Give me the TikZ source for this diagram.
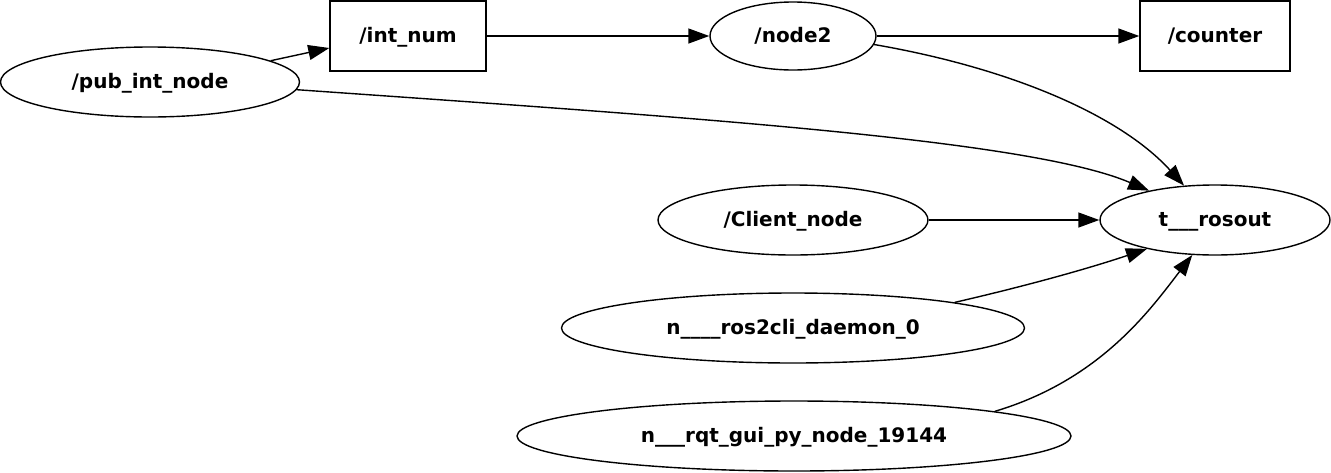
\documentclass[tikz,border=0pt]{standalone}
\usepackage{fontspec}
\setmainfont{DejaVu Sans}
\usetikzlibrary{shapes.geometric,arrows.meta}
\begin{document}
\begin{tikzpicture}[x=1pt,y=-1pt,
  every node/.style={font=\fontsize{20}{23}\selectfont\bfseries, inner sep=0pt, text height=16pt, text depth=3pt, line width=1.4pt},
  ell/.style={draw, ellipse},
  box/.style={draw, rectangle},
  conn/.style={line width=1.4pt, -{Triangle[length=21pt,width=15pt]}}]
\useasboundingbox (0,0) rectangle (1331,472);
\node[box, minimum width=156pt, minimum height=70pt] (int) at (408,36) {/int\_num};
\node[ell, minimum width=166pt, minimum height=68pt] (node2) at (793,36) {/node2};
\node[box, minimum width=150pt, minimum height=70pt] (counter) at (1215,36) {/counter};
\node[ell, minimum width=299pt, minimum height=70pt] (pub) at (150,82) {/pub\_int\_node};
\node[ell, minimum width=270pt, minimum height=70pt] (client) at (793,220) {/Client\_node};
\node[ell, minimum width=230pt, minimum height=70pt] (rosout) at (1215,220) {t\_\_\_rosout};
\node[ell, minimum width=463pt, minimum height=70pt] (cli) at (793,328) {n\_\_\_\_ros2cli\_daemon\_0};
\node[ell, minimum width=554pt, minimum height=70pt] (rqt) at (794,436) {n\_\_\_rqt\_gui\_py\_node\_19144};

\draw[conn] (pub.10) -- (int.west |- 0,48);
\draw[conn] (int.east) -- (node2.west);
\draw[conn] (node2.east) -- (counter.west);
\draw[conn] (node2.-6) .. controls (1010,68) and (1120,115) .. (rosout.132);
\draw[conn] (pub.-3.4) .. controls (700,118) and (1030,140) .. (rosout.156);
\draw[conn] (client.east) -- (rosout.west);
\draw[conn] (cli.9.5) .. controls (1030,285) and (1090,268) .. (rosout.-157.6);
\draw[conn] (rqt.7.2) .. controls (1100,380) and (1150,310) .. (rosout.-123);
\end{tikzpicture}
\end{document}
